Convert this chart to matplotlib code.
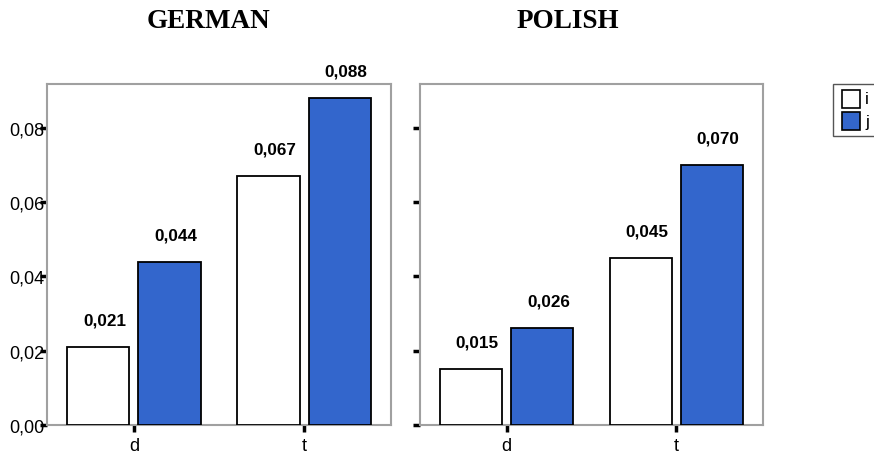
import matplotlib
matplotlib.use("Agg")
import matplotlib.pyplot as plt
from matplotlib.patches import Rectangle
from matplotlib.ticker import FuncFormatter, FixedLocator
import numpy as np

categories = ["d", "t"]
series_names = ["i", "j"]
german_i = [0.021, 0.067]
german_j = [0.044, 0.088]
polish_i = [0.015, 0.045]
polish_j = [0.026, 0.070]
panel_titles = ["GERMAN", "POLISH"]
y_ticks = [0.00, 0.02, 0.04, 0.06, 0.08]

colors = ["#ffffff", "#3366cc"]
W, H = 874, 456
fig = plt.figure(figsize=(W / 100, H / 100), dpi=100)
plt.rcParams['font.family'] = ['Liberation Sans', 'DejaVu Sans']

def fx(px):
    return px / W

def fy(py):
    return 1 - py / H

panels = [
    (47, 391, german_i, german_j, True),
    (420, 763, polish_i, polish_j, False),
]
y_top, y_bot = 85, 426
comma = FuncFormatter(lambda v, p: f"{v:.2f}".replace(".", ","))
x = np.arange(len(categories))
bw = 0.365
off = 0.209

for (l, r, si, sj, show_labels) in panels:
    ax = fig.add_axes([fx(l), fy(y_bot), fx(r) - fx(l), fy(y_top) - fy(y_bot)])
    for k, vals in enumerate([si, sj]):
        xs = x + (-off if k == 0 else off)
        ax.bar(xs, vals, width=bw, color=colors[k], edgecolor="black",
               linewidth=1.3, zorder=3)
        for xv, v in zip(xs, vals):
            ax.annotate(f"{v:.3f}".replace(".", ","), (xv, v),
                        xytext=(4.5, 19.5), textcoords="offset points",
                        ha="center", va="center", fontsize=12.3,
                        fontweight="bold")
    ax.set_xlim(-0.51, 1.51)
    ax.set_ylim(0, 0.09185)
    ax.yaxis.set_major_locator(FixedLocator(y_ticks))
    ax.yaxis.set_major_formatter(comma)
    ax.set_xticks(x)
    ax.set_xticklabels(categories, fontsize=13)
    for s in ax.spines.values():
        s.set_color("#a0a0a0")
        s.set_linewidth(1.5)
    ax.tick_params(axis="y", direction="out", length=5, width=2.5,
                   color="black", labelsize=13, pad=-3,
                   labelleft=show_labels)
    ax.tick_params(axis="x", direction="out", length=5, width=2.5,
                   color="black", pad=4)

fig.text(fx(209), fy(22), panel_titles[0], ha="center", va="center",
         fontsize=19.5, fontweight="bold", family="Liberation Serif")
fig.text(fx(568), fy(22), panel_titles[1], ha="center", va="center",
         fontsize=19.5, fontweight="bold", family="Liberation Serif")

# legend
fig.patches.append(Rectangle((fx(833), fy(137)), fx(60), fy(85) - fy(137),
                             transform=fig.transFigure, facecolor="white",
                             edgecolor="#555555", linewidth=1.0))
for k, name in enumerate(series_names):
    top = 91 + k * 22
    fig.patches.append(Rectangle((fx(842), fy(top + 18)), fx(18), fy(top) - fy(top + 18),
                                 transform=fig.transFigure, facecolor=colors[k],
                                 edgecolor="black", linewidth=1.2))
    fig.text(fx(865), fy(top + 9), name, ha="left", va="center", fontsize=12.5)

fig.savefig("out.png", dpi=100)
